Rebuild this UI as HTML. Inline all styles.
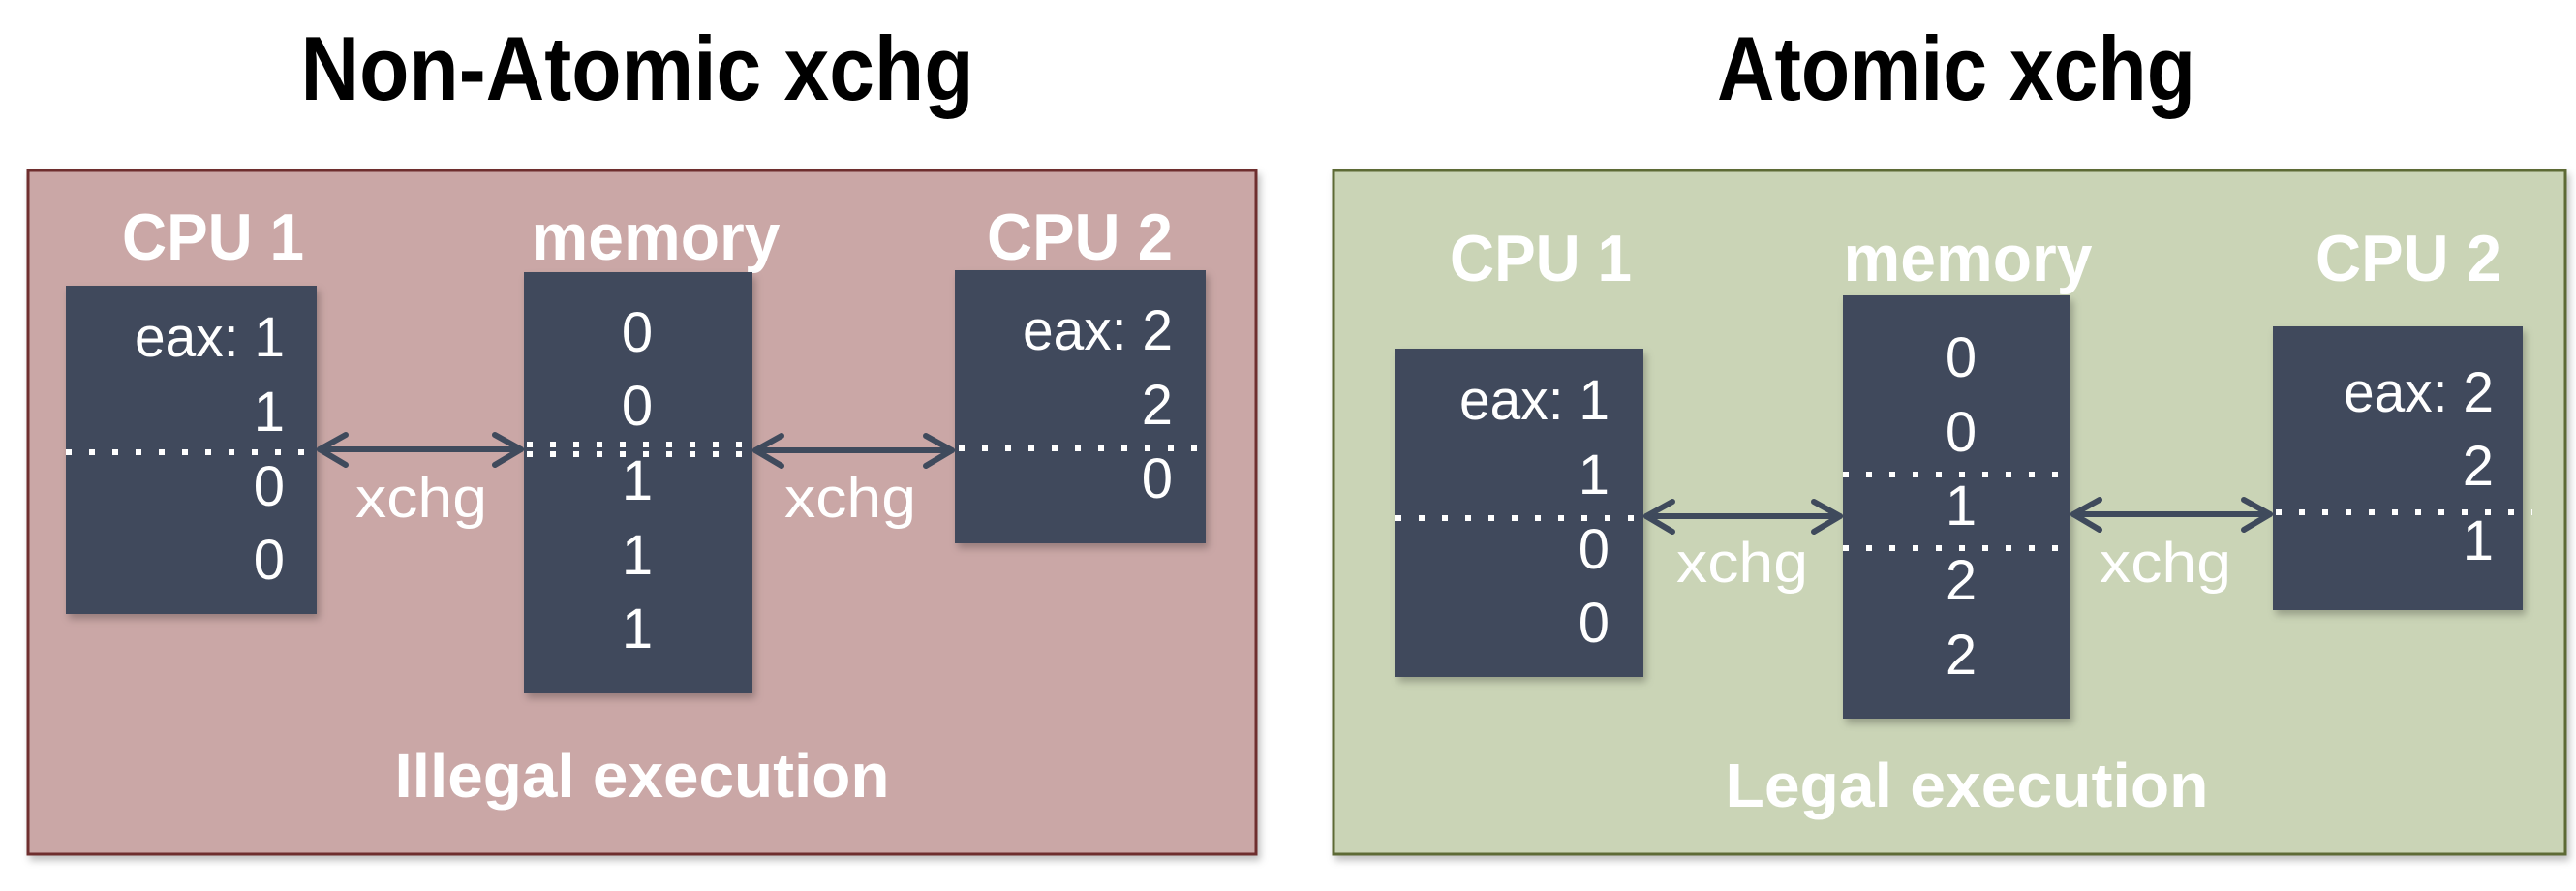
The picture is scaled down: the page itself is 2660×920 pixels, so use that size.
<!DOCTYPE html>
<html><head><meta charset="utf-8"><style>
html,body{margin:0;padding:0;background:#fff;}
svg{display:block;}
text{font-family:"Liberation Sans",sans-serif;}
</style></head><body>
<svg width="2660" height="920" viewBox="0 0 2660 920" xmlns="http://www.w3.org/2000/svg">
<defs>
<filter id="sh" x="-10%" y="-10%" width="130%" height="130%"><feDropShadow dx="3" dy="5" stdDeviation="4" flood-color="#000" flood-opacity="0.25"/></filter>
</defs>
<!-- titles -->
<text x="658" y="103" font-size="94" font-weight="bold" text-anchor="middle" textLength="695" lengthAdjust="spacingAndGlyphs" fill="#000">Non-Atomic xchg</text>
<text x="2020" y="103" font-size="94" font-weight="bold" text-anchor="middle" textLength="494" lengthAdjust="spacingAndGlyphs" fill="#000">Atomic xchg</text>

<!-- left panel -->
<rect x="29" y="176" width="1268" height="706" fill="#caa7a6" stroke="#6e2f2e" stroke-width="3" filter="url(#sh)"/>
<g fill="#fff" font-weight="bold" font-size="68" text-anchor="middle">
<text x="220" y="268" textLength="188" lengthAdjust="spacingAndGlyphs">CPU 1</text>
<text x="677" y="268" textLength="257" lengthAdjust="spacingAndGlyphs">memory</text>
<text x="1115" y="268" textLength="192" lengthAdjust="spacingAndGlyphs">CPU 2</text>
<text x="663" y="823" font-size="64" textLength="511" lengthAdjust="spacingAndGlyphs">Illegal execution</text>
</g>
<g fill="#3f4a5c" filter="url(#sh)">
<rect x="68" y="295" width="259" height="339"/>
<rect x="541" y="281" width="236" height="435"/>
<rect x="986" y="279" width="259" height="282"/>
</g>
<g fill="#fff" font-size="58" text-anchor="end">
<text x="294" y="368" textLength="155" lengthAdjust="spacingAndGlyphs">eax: 1</text>
<text x="294" y="445">1</text>
<text x="294" y="522">0</text>
<text x="294" y="598">0</text>
<text x="1211" y="361" textLength="155" lengthAdjust="spacingAndGlyphs">eax: 2</text>
<text x="1211" y="438">2</text>
<text x="1211" y="514">0</text>
</g>
<g fill="#fff" font-size="58" text-anchor="middle">
<text x="658" y="363">0</text>
<text x="658" y="439">0</text>
<text x="658" y="516">1</text>
<text x="658" y="593">1</text>
<text x="658" y="669">1</text>
<text x="435" y="534" textLength="136" lengthAdjust="spacingAndGlyphs">xchg</text>
<text x="878" y="534" textLength="136" lengthAdjust="spacingAndGlyphs">xchg</text>
</g>
<g stroke="#fff" stroke-width="6" stroke-dasharray="6 18" fill="none">
<line x1="68" y1="467" x2="327" y2="467"/>
<line x1="544" y1="459" x2="777" y2="459"/>
<line x1="544" y1="469" x2="777" y2="469"/>
<line x1="990" y1="463" x2="1250" y2="463"/>
</g>
<g stroke="#3f4a5c" stroke-width="6" fill="none" stroke-linecap="round" stroke-linejoin="round">
<line x1="330" y1="464" x2="538" y2="464"/>
<polyline points="357,449 330,464 357,480"/>
<polyline points="511,449 538,464 511,480"/>
<line x1="780" y1="465" x2="983" y2="465"/>
<polyline points="807,450 780,465 807,481"/>
<polyline points="956,450 983,465 956,481"/>
</g>

<!-- right panel -->
<rect x="1377" y="176" width="1272" height="706" fill="#cad4b6" stroke="#5d6b34" stroke-width="3" filter="url(#sh)"/>
<g fill="#fff" font-weight="bold" font-size="68" text-anchor="middle">
<text x="1591" y="290" textLength="188" lengthAdjust="spacingAndGlyphs">CPU 1</text>
<text x="2032" y="290" textLength="257" lengthAdjust="spacingAndGlyphs">memory</text>
<text x="2487" y="290" textLength="192" lengthAdjust="spacingAndGlyphs">CPU 2</text>
<text x="2031" y="833" font-size="64" textLength="499" lengthAdjust="spacingAndGlyphs">Legal execution</text>
</g>
<g fill="#3f4a5c" filter="url(#sh)">
<rect x="1441" y="360" width="256" height="339"/>
<rect x="1903" y="305" width="235" height="437"/>
<rect x="2347" y="337" width="258" height="293"/>
</g>
<g fill="#fff" font-size="58" text-anchor="end">
<text x="1662" y="433" textLength="155" lengthAdjust="spacingAndGlyphs">eax: 1</text>
<text x="1662" y="510">1</text>
<text x="1662" y="587">0</text>
<text x="1662" y="663">0</text>
<text x="2575" y="425" textLength="155" lengthAdjust="spacingAndGlyphs">eax: 2</text>
<text x="2575" y="501">2</text>
<text x="2575" y="578">1</text>
</g>
<g fill="#fff" font-size="58" text-anchor="middle">
<text x="2025" y="389">0</text>
<text x="2025" y="466">0</text>
<text x="2025" y="542">1</text>
<text x="2025" y="619">2</text>
<text x="2025" y="696">2</text>
<text x="1799" y="601" textLength="136" lengthAdjust="spacingAndGlyphs">xchg</text>
<text x="2236" y="601" textLength="136" lengthAdjust="spacingAndGlyphs">xchg</text>
</g>
<g stroke="#fff" stroke-width="6" stroke-dasharray="6 18" fill="none">
<line x1="1441" y1="535" x2="1697" y2="535"/>
<line x1="1903" y1="490" x2="2130" y2="490"/>
<line x1="1903" y1="566" x2="2130" y2="566"/>
<line x1="2350" y1="529" x2="2615" y2="529"/>
</g>
<g stroke="#3f4a5c" stroke-width="6" fill="none" stroke-linecap="round" stroke-linejoin="round">
<line x1="1700" y1="533" x2="1900" y2="533"/>
<polyline points="1727,518 1700,533 1727,549"/>
<polyline points="1873,518 1900,533 1873,549"/>
<line x1="2141" y1="531" x2="2344" y2="531"/>
<polyline points="2168,516 2141,531 2168,547"/>
<polyline points="2317,516 2344,531 2317,547"/>
</g>
</svg>
</body></html>
